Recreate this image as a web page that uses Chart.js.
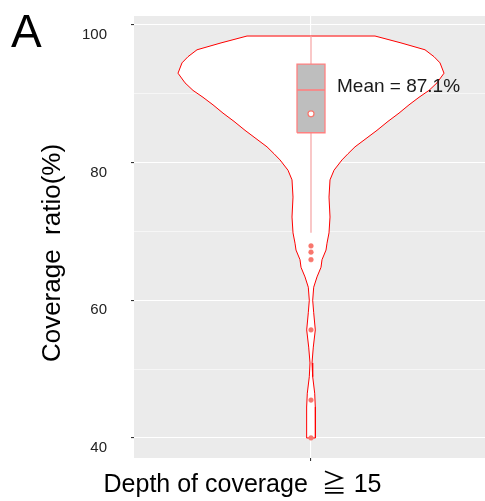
<!DOCTYPE html>
<html><head><meta charset="utf-8">
<script src="https://cdn.jsdelivr.net/npm/chart.js@4.4.1/dist/chart.umd.min.js"></script>
<style>html,body{margin:0;padding:0;background:#fff;}canvas{display:block;}</style>
</head><body>
<canvas id="c" width="485" height="501"></canvas>
<script>
// ---- data ----
const panelLetter = 'A';
const yTitle = 'Coverage  ratio(%)';
const xTitle = 'Depth of coverage  \u2267 15';
const yTickValues = [40, 50, 60, 70, 80, 90, 100];
const yTickLabels = ['40', '', '60', '', '80', '', '100'];
// violin outline: coverage value and half-width (density, x units)
const violinY = [98.4, 97.4, 96.4, 95.4, 94.5, 93.0, 91.6, 90.5, 89.5, 88.4, 87.2, 86.0, 84.7, 83.5, 82.3, 81.3, 80.4, 78.9, 77.5, 75.0, 72.1, 69.8, 68.3, 67.3, 65.9, 64.8, 63.4, 61.9, 60.0, 58.2, 55.7, 53.2, 50.9, 48.9, 46.5, 44.5, 42.0, 40.0];
const violinHalfWidth = [0.64, 0.90, 1.14, 1.23, 1.29, 1.33, 1.26, 1.18, 1.08, 0.98, 0.88, 0.77, 0.66, 0.55, 0.44, 0.37, 0.31, 0.23, 0.19, 0.18, 0.19, 0.18, 0.16, 0.15, 0.11, 0.10, 0.06, 0.027, 0.017, 0.027, 0.043, 0.023, 0.01, 0.017, 0.037, 0.043, 0.044, 0.044];
// box plot: [lower whisker, Q1, median, Q3, upper whisker]
const boxStats = [69.8, 84.35, 90.56, 94.33, 98.4];
const outliers = [67.9, 67.0, 65.9, 55.7, 45.5, 40.0];
const meanValue = 87.1;

// ---- styling / geometry ----
const FONT = '"Liberation Sans", Arial, "Noto Sans CJK JP", sans-serif';
const boxHalf = 0.14;
const labelPos = {x: 0.26, y: 91.1};

const violinPts = [];
for (let i = 0; i < violinY.length; i++) violinPts.push({x: violinHalfWidth[i], y: violinY[i]});
for (let i = violinY.length - 1; i >= 0; i--) violinPts.push({x: -violinHalfWidth[i], y: violinY[i]});
violinPts.push({x: violinHalfWidth[0], y: violinY[0]});

const [wLo, q1, med, q3, wHi] = boxStats;
const boxPts = [{x:-boxHalf,y:q1},{x:boxHalf,y:q1},{x:boxHalf,y:q3},{x:-boxHalf,y:q3},{x:-boxHalf,y:q1}];

const bgPlugin = {
  id: 'panelBg',
  beforeDraw(chart) {
    const {ctx, chartArea: a} = chart;
    ctx.save(); ctx.fillStyle = '#EBEBEB';
    ctx.fillRect(a.left, a.top, a.right - a.left, a.bottom - a.top);
    ctx.restore();
  }
};
const textPlugin = {
  id: 'annot',
  afterDatasetsDraw(chart) {
    const {ctx, scales: {x, y}} = chart;
    ctx.save();
    ctx.fillStyle = '#1a1a1a';
    ctx.font = '19px ' + FONT;
    ctx.textAlign = 'left'; ctx.textBaseline = 'middle';
    ctx.fillText('Mean = ' + meanValue.toFixed(1) + '%', x.getPixelForValue(labelPos.x), y.getPixelForValue(labelPos.y));
    ctx.fillStyle = '#000';
    ctx.font = '46px ' + FONT;
    ctx.textBaseline = 'alphabetic';
    ctx.fillText(panelLetter, 11, 47);
    ctx.restore();
  }
};

const lineDs = (data, color, width, order, extra) => Object.assign({
  type: 'line', data, borderColor: color, borderWidth: width, pointRadius: 0,
  tension: 0, fill: false, order
}, extra || {});

new Chart(document.getElementById('c'), {
  type: 'line',
  data: {
    datasets: [
      lineDs(violinPts, '#FF0000', 1, 10, {fill: 'shape', backgroundColor: '#FFFFFF'}),
      lineDs([{x:0,y:q3},{x:0,y:wHi}], '#F6A3A3', 1.2, 9),
      lineDs([{x:0,y:q1},{x:0,y:wLo}], '#F6A3A3', 1.2, 8),
      lineDs(boxPts, '#FF8080', 1.3, 7, {fill: 'shape', backgroundColor: '#BEBEBE'}),
      lineDs([{x:-boxHalf,y:med},{x:boxHalf,y:med}], '#FF8080', 1.6, 6),
      {type: 'line', data: outliers.map(v => ({x: 0, y: v})), showLine: false, pointRadius: 2.4,
       pointBackgroundColor: '#F8766D', pointBorderColor: '#F8766D', pointBorderWidth: 0.5, order: 5},
      {type: 'line', data: [{x: 0, y: meanValue}], showLine: false, pointRadius: 3,
       pointBackgroundColor: '#FFFFFF', pointBorderColor: '#F8766D', pointBorderWidth: 1.2, order: 4}
    ]
  },
  options: {
    responsive: false, animation: false, devicePixelRatio: 1, events: [],
    layout: {autoPadding: false, padding: {top: 5, left: 0, right: 0, bottom: 0}},
    plugins: {
      legend: {display: false}, tooltip: {enabled: false},
      title: {display: true, position: 'left', text: yTitle, color: '#000',
        font: {family: FONT, size: 26, weight: 'normal'}, padding: {top: 37, bottom: 0}},
      subtitle: {display: true, position: 'bottom', text: xTitle, color: '#000',
        font: {family: FONT, size: 25, weight: 'normal'}, padding: {top: 0, bottom: 1}}
    },
    scales: {
      x: {
        type: 'linear', position: 'bottom', min: -1.77, max: 1.74,
        afterBuildTicks: s => { s.ticks = [{value: 0}]; },
        ticks: {callback: () => '', font: {family: FONT, size: 10}},
        grid: {color: '#FFFFFF', lineWidth: 1.1, tickColor: '#333333', tickLength: 3, drawTicks: true},
        border: {display: false},
        afterFit: s => { s.height = 12; s.paddingLeft = 0; s.paddingRight = 0; }
      },
      xTop: {
        type: 'linear', position: 'top', display: true,
        ticks: {display: false}, grid: {display: false, drawTicks: false}, border: {display: false},
        afterFit: s => { s.height = 11; s.paddingLeft = 0; s.paddingRight = 0; }
      },
      y: {
        type: 'linear', min: 37.09, max: 101.31,
        afterBuildTicks: s => { s.ticks = yTickValues.map(v => ({value: v})); },
        ticks: {callback: (v, i) => yTickLabels[i], color: '#222222', padding: 24, labelOffset: 10,
          font: {family: FONT, size: 15}},
        grid: {color: '#FFFFFF', drawTicks: true, tickLength: 3,
          lineWidth: c => (yTickLabels[c.index] ? 1.1 : 0.55),
          tickColor: c => (yTickLabels[c.index] ? '#333333' : 'rgba(0,0,0,0)')},
        border: {display: false},
        afterFit: s => { s.width = 134 - 68.2; s.paddingTop = 0; s.paddingBottom = 0; }
      }
    }
  },
  plugins: [bgPlugin, textPlugin]
});
</script>
</body></html>
